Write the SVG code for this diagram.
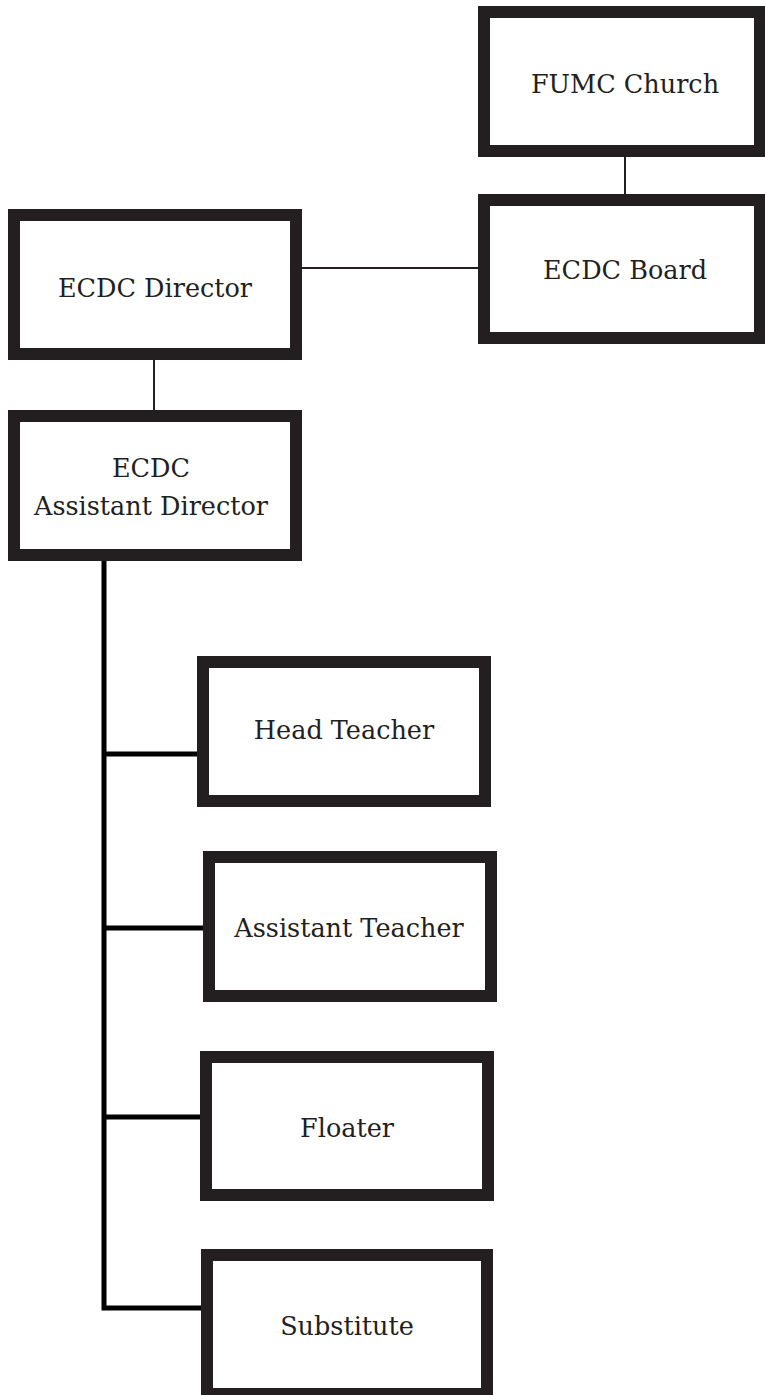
<svg xmlns="http://www.w3.org/2000/svg" width="765" height="1395" viewBox="0 0 765 1395">
<style>
.box{fill:#fff;stroke:#231f20;stroke-width:12}
.lbl{font-family:"DejaVu Serif","Liberation Serif",serif;font-size:25.5px;fill:#231f20;text-anchor:middle}
.thin{stroke:#231f20;stroke-width:2;fill:none}
.thick{stroke:#000;stroke-width:5;fill:none;stroke-linejoin:miter}
</style>
<rect width="765" height="1395" fill="#fff"/>
<g id="connectors">
<line class="thin" x1="625" y1="156" x2="625" y2="195"/>
<line class="thin" x1="301" y1="268" x2="479" y2="268"/>
<line class="thin" x1="154" y1="359" x2="154" y2="411"/>
<path class="thick" d="M104 560 V1308 H202"/>
<line class="thick" x1="104" y1="754" x2="198" y2="754"/>
<line class="thick" x1="104" y1="928" x2="204" y2="928"/>
<line class="thick" x1="104" y1="1117" x2="201" y2="1117"/>
</g>
<g id="fumc"><rect class="box" x="484" y="12" width="276" height="139"/><text class="lbl" x="625" y="93">FUMC Church</text></g>
<g id="board"><rect class="box" x="484" y="200" width="276" height="138"/><text class="lbl" x="625" y="279">ECDC Board</text></g>
<g id="director"><rect class="box" x="14" y="215" width="282" height="139"/><text class="lbl" x="155" y="297">ECDC Director</text></g>
<g id="asstdirector"><rect class="box" x="14" y="416" width="282" height="139"/><text class="lbl" x="151" y="477">ECDC</text><text class="lbl" x="151" y="515">Assistant Director</text></g>
<g id="headteacher"><rect class="box" x="203" y="662" width="282" height="139"/><text class="lbl" x="344" y="739">Head Teacher</text></g>
<g id="assistantteacher"><rect class="box" x="209" y="857" width="282" height="139"/><text class="lbl" x="349" y="937">Assistant Teacher</text></g>
<g id="floater"><rect class="box" x="206" y="1057" width="282" height="138"/><text class="lbl" x="347" y="1137">Floater</text></g>
<g id="substitute"><rect class="box" x="207" y="1255" width="280" height="139"/><text class="lbl" x="347" y="1335">Substitute</text></g>
</svg>
